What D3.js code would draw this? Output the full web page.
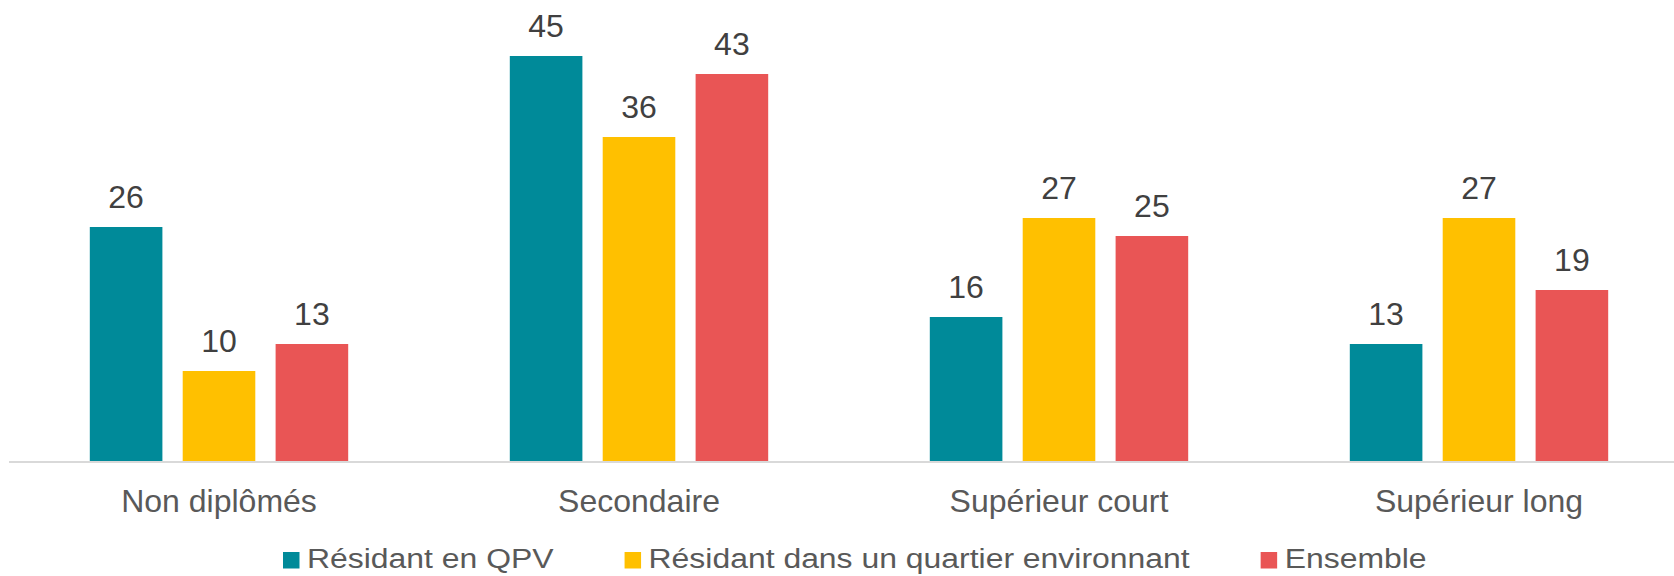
<!DOCTYPE html>
<meta charset="utf-8">
<style>

    body {
        margin: 0;
        background: #fff;
    }

    .axis path,
    .axis line {
        fill: none;
        stroke: #d9d9d9;
        stroke-width: 2;
        shape-rendering: crispEdges;
    }

    .label {
        font: 32px "Liberation Sans", Arial, sans-serif;
        fill: #404040;
        text-anchor: middle;
    }

    .cat {
        font: 32px "Liberation Sans", Arial, sans-serif;
        fill: #595959;
        text-anchor: middle;
    }

    .legend text {
        font: 28px "Liberation Sans", Arial, sans-serif;
        fill: #595959;
    }

</style>
<svg id="graph" width="1674" height="576"></svg>
<script src="https://cdn.jsdelivr.net/npm/d3@7"></script>

<script>

    var categories = ["Non diplômés", "Secondaire", "Supérieur court", "Supérieur long"];
    var series = ["Résidant en QPV", "Résidant dans un quartier environnant", "Ensemble"];
    var qpv = [26, 45, 16, 13];
    var environnant = [10, 36, 27, 27];
    var ensemble = [13, 43, 25, 19];
    var colors = ["#008a99", "#ffc000", "#e95555"];

    var values = [qpv, environnant, ensemble];

    var svg = d3.select("#graph");

    // plot area is wider than the picture, the last group gets cut on the right
    var x0 = d3.scaleBand()
            .domain(categories)
            .range([9, 1689])
            .paddingInner(0)
            .paddingOuter(0);

    var x1 = d3.scaleBand()
            .domain(series)
            .range([0, 3 * 92.9 - 20.3])
            .paddingInner(20.3 / 92.9);

    var y = d3.scaleLinear()
            .domain([0, 50])
            .range([461, 11]);

    var rows = [];
    categories.forEach(function(c, i) {
        series.forEach(function(s, j) {
            rows.push({cat: c, ser: s, value: values[j][i], color: colors[j]});
        });
    });

    var groupOffset = (x0.bandwidth() - x1.range()[1]) / 2;

    svg.append("g")
        .selectAll("rect")
        .data(rows)
        .enter()
        .append("rect")
        .attr("x", function(d) { return x0(d.cat) + groupOffset + x1(d.ser); })
        .attr("y", function(d) { return y(d.value); })
        .attr("width", x1.bandwidth())
        .attr("height", function(d) { return y(0) - y(d.value); })
        .attr("fill", function(d) { return d.color; });

    svg.append("g")
        .attr("class", "axis")
        .attr("transform", "translate(0,462)")
        .append("line")
        .attr("x1", 9)
        .attr("x2", 1674);

    svg.append("g")
        .selectAll("text")
        .data(rows)
        .enter()
        .append("text")
        .attr("class", "label")
        .attr("x", function(d) { return x0(d.cat) + groupOffset + x1(d.ser) + x1.bandwidth() / 2; })
        .attr("y", function(d) { return y(d.value) - 19.5; })
        .text(function(d) { return d.value; });

    svg.append("g")
        .selectAll("text")
        .data(categories)
        .enter()
        .append("text")
        .attr("class", "cat")
        .attr("x", function(d) { return x0(d) + x0.bandwidth() / 2; })
        .attr("y", 511.5)
        .text(function(d) { return d; });

    // legend, text a bit stretched like in the original
    var legend = svg.append("g").attr("class", "legend");
    var lx = 283;
    series.forEach(function(s, j) {
        legend.append("rect")
            .attr("x", lx)
            .attr("y", 552)
            .attr("width", 16.5)
            .attr("height", 16.5)
            .attr("fill", colors[j]);
        var t = legend.append("text")
            .attr("transform", "translate(" + (lx + 24) + ",568.3) scale(1.14,1)")
            .text(s);
        var w = t.node().getComputedTextLength() * 1.14;
        lx = lx + 24 + w + 71;
    });

</script>
